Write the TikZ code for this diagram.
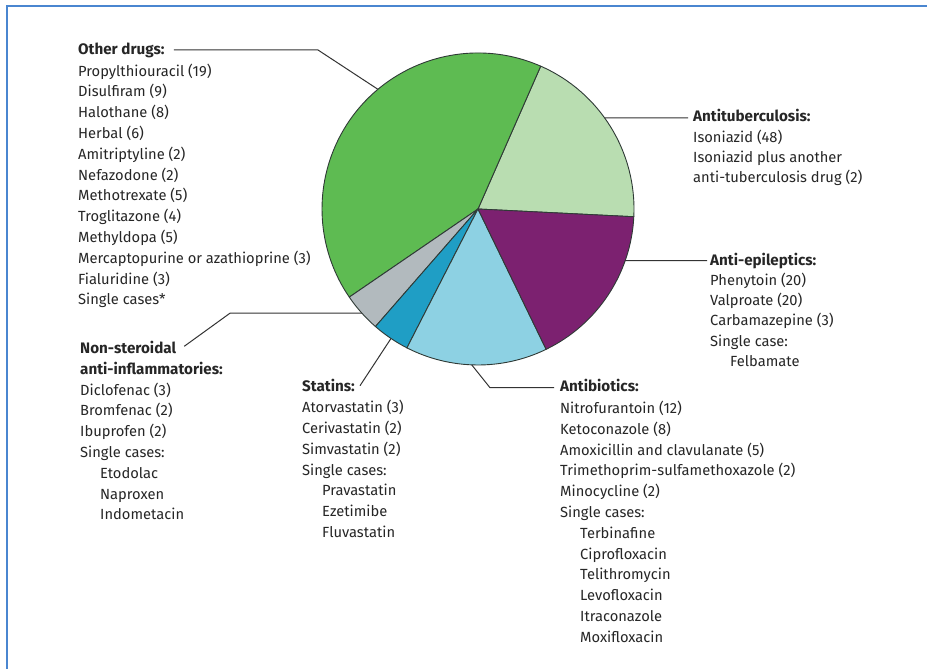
\documentclass[tikz,border=0pt]{standalone}
\usepackage{fontspec}
\setmainfont{Fira Sans}
\usetikzlibrary{calc}
\definecolor{textc}{HTML}{262626}
\definecolor{leadc}{HTML}{333333}
\definecolor{edgec}{HTML}{2F3A36}
\definecolor{bordc}{HTML}{4A86D0}
\definecolor{cgreen}{HTML}{5EBB52}
\definecolor{clgreen}{HTML}{B9DDB1}
\definecolor{cpurple}{HTML}{7C2170}
\definecolor{clblue}{HTML}{8DD1E3}
\definecolor{cdblue}{HTML}{1F9EC5}
\definecolor{cgray}{HTML}{B2BABE}
\newcommand{\ind}{\hspace*{20pt}}
\begin{document}
\begin{tikzpicture}[x=1pt,y=1pt,
  txt/.style={anchor=north west, inner sep=0pt, align=left, text=textc,
    font=\fontsize{14.7}{20.8}\selectfont},
  txtn/.style={txt, font=\fontsize{14.7}{20.3}\selectfont},
  hd/.style={anchor=base west, inner sep=0pt, text=textc,
    font=\fontsize{15.2}{20.8}\selectfont\bfseries},
  lead/.style={draw=leadc, line width=1pt},
  slice/.style={draw=edgec, line width=0.9pt, line join=round}]
\useasboundingbox (0,0) rectangle (927,669);
\fill[white] (0,0) rectangle (927,669);
\draw[bordc, line width=1.4pt] (7,0) -- (7,663) -- (927,663);

% pie
\coordinate (C) at (478,460);
\filldraw[slice, fill=clgreen] (C) -- ++(-2.85:156) arc[start angle=-2.85, end angle=66.3, radius=156] -- cycle;
\filldraw[slice, fill=cgreen] (C) -- ++(66.3:156) arc[start angle=66.3, end angle=214.4, radius=156] -- cycle;
\filldraw[slice, fill=cgray] (C) -- ++(214.4:156) arc[start angle=214.4, end angle=228.9, radius=156] -- cycle;
\filldraw[slice, fill=cdblue] (C) -- ++(228.9:156) arc[start angle=228.9, end angle=242.9, radius=156] -- cycle;
\filldraw[slice, fill=clblue] (C) -- ++(242.9:156) arc[start angle=242.9, end angle=295.9, radius=156] -- cycle;
\filldraw[slice, fill=cpurple] (C) -- ++(295.9:156) arc[start angle=295.9, end angle=357.15, radius=156] -- cycle;

% rim coordinates
\coordinate (rOD) at ($(C)+(129.9:156)$);
\coordinate (rAT) at ($(C)+(35.7:156)$);
\coordinate (rAE) at ($(C)+(-19.35:156)$);
\coordinate (rAB) at ($(C)+(-92.3:156)$);
\coordinate (rST) at ($(C)+(236.1:156)$);
\coordinate (rNS) at ($(C)+(221.9:156)$);

% Other drugs
\node[hd] (odh) at (78,614) {Other drugs:};
\node[txt] (odb) at (78,607.56) {\strut Propylthiouracil (19)\\Disulfiram (9)\\Halothane (8)\\Herbal (6)\\Amitriptyline (2)\\Nefazodone (2)\\Methotrexate (5)\\Troglitazone (4)\\Methyldopa (5)\\Mercaptopurine or azathioprine (3)\\Fialuridine (3)\\Single cases*};

% Antituberculosis
\node[hd] (atbh) at (693,547) {Antituberculosis:};
\node[txtn] (atbb) at (693,541.2) {\strut Isoniazid (48)\\Isoniazid plus another\\anti-tuberculosis drug (2)};

% Anti-epileptics
\node[hd] (aeh) at (710,403.3) {Anti-epileptics:};
\node[txtn] (aeb) at (710,398.2) {\strut Phenytoin (20)\\Valproate (20)\\Carbamazepine (3)\\Single case:\\\ind Felbamate};

% Antibiotics
\node[hd] (abh) at (560,277.3) {Antibiotics:};
\node[txt] (abb) at (560,270.3) {\strut Nitrofurantoin (12)\\Ketoconazole (8)\\Amoxicillin and clavulanate (5)\\Trimethoprim-sulfamethoxazole (2)\\Minocycline (2)\\Single cases:\\\ind Terbinafine\\\ind Ciprofloxacin\\\ind Telithromycin\\\ind Levofloxacin\\\ind Itraconazole\\\ind Moxifloxacin};

% Statins
\node[hd] (sth) at (302,277.3) {Statins:};
\node[txt] (stb) at (302,271.1) {\strut Atorvastatin (3)\\Cerivastatin (2)\\Simvastatin (2)\\Single cases:\\\ind Pravastatin\\\ind Ezetimibe\\\ind Fluvastatin};

% NSAIDs
\node[hd] (nsh) at (80,315.7) {Non-steroidal};
\node[txt] (nsb) at (80,309.5) {\strut\textbf{\fontsize{15.2}{20.8}\selectfont anti-inflammatories:}\\Diclofenac (3)\\Bromfenac (2)\\Ibuprofen (2)\\Single cases:\\\ind Etodolac\\\ind Naproxen\\\ind Indometacin};

% leaders
\draw[lead] ($(odh.base east)+(9,5)$) -- (318,619) -- (rOD);
\draw[lead] (rAT) -- ($(atbh.base west)+(-5,4)$);
\draw[lead] (rAE) -- ($(aeh.base west)+(-3,5)$);
\draw[lead] (rAB) -- (490,281.3) -- ($(abh.base west)+(-6,4)$);
\draw[lead] (rST) -- ($(sth.base east)+(5,6)$);
\draw[lead] (rNS) -- (230,355.8) -- ($(nsh.base east)+(8,7)$);
\end{tikzpicture}
\end{document}
